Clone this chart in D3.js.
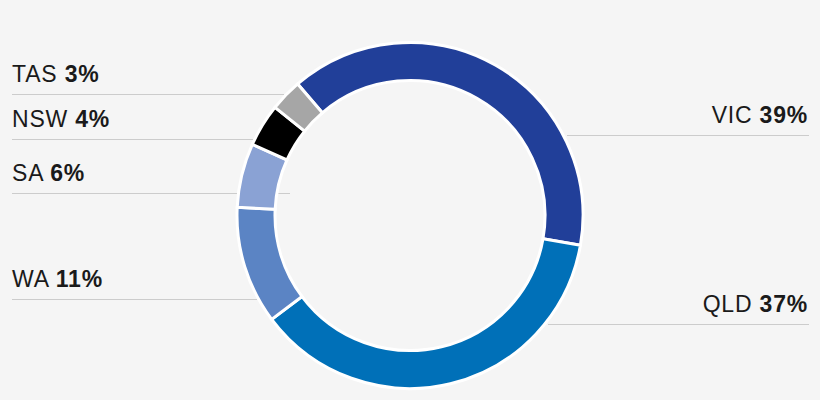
<!DOCTYPE html>
<html>
<head>
<meta charset="utf-8">
<script src="https://cdn.jsdelivr.net/npm/d3@7"></script>
<style>
  html, body { margin: 0; padding: 0; background: #f5f5f5; }
  svg { display: block; font-family: "Liberation Sans", Arial, Helvetica, sans-serif; }
</style>
</head>
<body>
<div id="wrapper"></div>
<script>
// data
const states = ["VIC", "QLD", "WA", "SA", "NSW", "TAS"]
const shares = [39, 37, 11, 6, 4, 3]
const colors = ["#213f99", "#0070b8", "#5b84c4", "#8aa2d4", "#000000", "#a6a6a6"]

// label placement (baseline y, side, line extent)
const labelLayout = {
  VIC: { side: "right", y: 123, x0: 567, x1: 809 },
  QLD: { side: "right", y: 312, x0: 548, x1: 809 },
  WA:  { side: "left",  y: 287, x0: 12,  x1: 257 },
  SA:  { side: "left",  y: 181, x0: 12,  x1: 290 },
  NSW: { side: "left",  y: 127, x0: 12,  x1: 256 },
  TAS: { side: "left",  y: 82,  x0: 12,  x1: 284 },
}

const dimensions = {
  width: 820,
  height: 400,
  cx: 410,
  cy: 215.5,
  outer: 173,
  inner: 135,
}

const dataset = states.map((s, i) => ({ state: s, value: shares[i], color: colors[i] }))

const svg = d3.select("#wrapper")
  .append("svg")
  .attr("width", dimensions.width)
  .attr("height", dimensions.height)

svg.append("rect")
  .attr("width", dimensions.width)
  .attr("height", dimensions.height)
  .attr("fill", "#f5f5f5")

// leader lines (under the ring)
svg.selectAll(".leader")
  .data(dataset)
  .join("line")
  .attr("class", "leader")
  .attr("x1", d => labelLayout[d.state].x0)
  .attr("x2", d => labelLayout[d.state].x1)
  .attr("y1", d => labelLayout[d.state].y + 12.5)
  .attr("y2", d => labelLayout[d.state].y + 12.5)
  .attr("stroke", "#cccccc")
  .attr("stroke-width", 1.2)

// ring
const start = -40.5 * Math.PI / 180
const pie = d3.pie()
  .sort(null)
  .value(d => d.value)
  .startAngle(start)
  .endAngle(start + 2 * Math.PI)

const arc = d3.arc()
  .innerRadius(dimensions.inner)
  .outerRadius(dimensions.outer)

const ring = svg.append("g")
  .attr("transform", `translate(${dimensions.cx},${dimensions.cy})`)

ring.selectAll("path")
  .data(pie(dataset))
  .join("path")
  .attr("d", arc)
  .attr("fill", d => d.data.color)
  .attr("stroke", "#ffffff")
  .attr("stroke-width", 3)
  .attr("stroke-linejoin", "miter")

// labels
const labels = svg.selectAll(".label")
  .data(dataset)
  .join("text")
  .attr("class", "label")
  .attr("x", d => labelLayout[d.state].side === "left" ? labelLayout[d.state].x0 : labelLayout[d.state].x1 - 1)
  .attr("y", d => labelLayout[d.state].y)
  .attr("text-anchor", d => labelLayout[d.state].side === "left" ? "start" : "end")
  .attr("font-size", 23)
  .attr("letter-spacing", 0.8)
  .attr("fill", "#1a1a1a")

labels.append("tspan")
  .text(d => d.state + " ")

labels.append("tspan")
  .attr("font-weight", "bold")
  .text(d => d.value + "%")
</script>
</body>
</html>
